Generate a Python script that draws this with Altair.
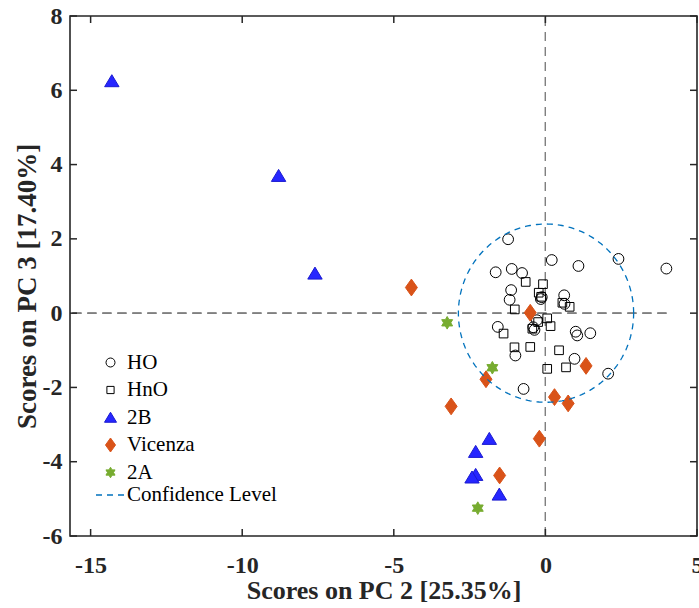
import altair as alt
import numpy as np
import pandas as pd

# ---------------- data ----------------
ho_x = [-1.23, 0.21, 1.09, 2.41, 3.99, -1.64, -1.11, -0.77, -1.13, -1.18, -0.15, -0.12,
        0.62, 0.63, -0.28, -1.57, -0.40, -0.36, 1.00, 1.05, 1.48, -0.99, 0.96, 2.07, -0.72]
ho_y = [1.99, 1.43, 1.27, 1.46, 1.20, 1.10, 1.19, 1.08, 0.62, 0.36, 0.38, 0.43,
        0.48, 0.25, -0.19, -0.37, -0.38, -0.45, -0.50, -0.60, -0.54, -1.14, -1.23, -1.63, -2.04]

hno_x = [-0.65, -0.08, -0.22, -0.14, 0.56, 0.80, -1.01, 0.06, 0.17, -0.24, -0.43,
         -1.38, -1.02, -0.50, 0.45, 0.06, 0.68]
hno_y = [0.84, 0.78, 0.55, 0.44, 0.28, 0.17, 0.10, -0.14, -0.35, -0.24, -0.42,
         -0.55, -0.92, -0.91, -1.00, -1.50, -1.46]

b2_x = [-14.3, -8.8, -7.6, -1.85, -2.3, -2.3, -2.42, -1.52]
b2_y = [6.25, 3.70, 1.07, -3.38, -3.73, -4.35, -4.42, -4.88]

vic_x = [-4.42, -0.50, -1.96, -3.11, 0.30, 0.75, -0.20, -1.51, 1.34]
vic_y = [0.69, 0.01, -1.78, -2.51, -2.26, -2.43, -3.38, -4.37, -1.42]

a2_x = [-3.24, -1.75, -2.23]
a2_y = [-0.26, -1.47, -5.25]

groups = ["HO", "HnO", "2B", "Vicenza", "2A"]

ci_center_x = 0.02
ci_center_y = 0.0
ci_radius_x = 2.89
ci_radius_y = 2.40

x_ticks = [-15, -10, -5, 0, 5]
y_ticks = [-6, -4, -2, 0, 2, 4, 6, 8]

# ---------------- tables ----------------
rows = []
for g, xs_, ys_ in zip(groups, [ho_x, hno_x, b2_x, vic_x, a2_x], [ho_y, hno_y, b2_y, vic_y, a2_y]):
    for a, b in zip(xs_, ys_):
        rows.append({"group": g, "pc2": a, "pc3": b})
df = pd.DataFrame(rows)

t = np.linspace(0, 2 * np.pi, 241)
ell = pd.DataFrame({
    "pc2": ci_center_x + ci_radius_x * np.cos(t),
    "pc3": ci_center_y + ci_radius_y * np.sin(t),
    "i": np.arange(len(t)),
    "name": "Confidence Level",
})
xt = pd.DataFrame({"v": x_ticks})
yt = pd.DataFrame({"v": y_ticks})

# ---------------- style ----------------
W, H = 627, 520
FONT = "Liberation Serif, Times New Roman, serif"
AX = "#262626"
xs = alt.Scale(domain=[-15.68, 5], nice=False, zero=False)
ys = alt.Scale(domain=[-6, 8], nice=False, zero=False)

circle_p = "M-0.9,0A0.9,0.9 0 1,0 0.9,0A0.9,0.9 0 1,0 -0.9,0Z"
square_p = "M-0.72,-0.72L0.72,-0.72L0.72,0.72L-0.72,0.72Z"
tri_p = "M0,-1.05L1.2,0.95L-1.2,0.95Z"
diam_p = "M0,-1.4L1,0L0,1.4L-1,0Z"
star_p = ("M0,-1.05L0.303,-0.525L0.909,-0.525L0.606,0L0.909,0.525L0.303,0.525"
          "L0,1.05L-0.303,0.525L-0.909,0.525L-0.606,0L-0.909,-0.525L-0.303,-0.525Z")

shapes = [circle_p, square_p, tri_p, diam_p, star_p]
fills = ["transparent", "transparent", "#2626FF", "#D95319", "#77AC30"]
strokes = ["#000000", "#000000", "#1A1AD0", "#D95319", "#77AC30"]

leg = alt.Legend(orient="none", legendX=30, legendY=336, title=None,
                 labelFont=FONT, labelFontSize=21, labelColor="#000000",
                 symbolSize=100, rowPadding=5.5, labelOffset=6, padding=0,
                 symbolStrokeWidth=1, labelLimit=300)

lab_expr = "'' + datum.value"

points = alt.Chart(df).mark_point(filled=True, size=144, strokeWidth=1, opacity=1).encode(
    x=alt.X("pc2:Q", scale=xs, title="Scores on PC 2 [25.35%]",
            axis=alt.Axis(values=x_ticks, grid=False, domain=False, ticks=False, tickSize=0,
                          labelExpr=lab_expr,
                          labelFont=FONT, labelFontSize=24, labelFontWeight="bold",
                          labelColor=AX, labelPadding=36, labelBaseline="alphabetic",
                          labelFlush=False, labelOverlap=False,
                          titleFont=FONT, titleFontSize=26, titleFontWeight="bold",
                          titleColor=AX, titleBaseline="alphabetic", titleY=62)),
    y=alt.Y("pc3:Q", scale=ys, title="Scores on PC 3 [17.40%]",
            axis=alt.Axis(values=y_ticks, grid=False, domain=False, ticks=False, tickSize=0,
                          labelExpr=lab_expr,
                          labelFont=FONT, labelFontSize=24, labelFontWeight="bold",
                          labelColor=AX, labelPadding=8, labelFlush=False, labelOverlap=False,
                          titleFont=FONT, titleFontSize=27, titleFontWeight="bold",
                          titleColor=AX, titleAngle=-90, titleBaseline="alphabetic",
                          titleAlign="center", titleX=-35, titleY=270)),
    shape=alt.Shape("group:N", scale=alt.Scale(domain=groups, range=shapes), legend=leg),
    fill=alt.Fill("group:N", scale=alt.Scale(domain=groups, range=fills), legend=leg),
    stroke=alt.Stroke("group:N", scale=alt.Scale(domain=groups, range=strokes), legend=leg),
    order=alt.Order("idx:Q"),
).transform_window(idx="row_number()")

zero_h = alt.Chart(xt).mark_rule(color="#808080", strokeWidth=1, strokeDash=[9, 6]).encode(
    x=alt.XDatum(-15.6, scale=xs), x2=alt.X2Datum(4.0), y=alt.YDatum(0, scale=ys))
zero_v = alt.Chart(xt).mark_rule(color="#808080", strokeWidth=1, strokeDash=[9, 6]).encode(
    x=alt.XDatum(0, scale=xs), y=alt.YDatum(-6, scale=ys), y2=alt.Y2Datum(8))

ellipse = alt.Chart(ell).mark_line(color="#0072BD", strokeWidth=1.3).encode(
    x=alt.X("pc2:Q", scale=xs),
    y=alt.Y("pc3:Q", scale=ys),
    order=alt.Order("i:Q"),
    strokeDash=alt.StrokeDash("name:N", scale=alt.Scale(domain=["Confidence Level"], range=[[6, 5]]),
                              legend=alt.Legend(orient="none", legendX=25, legendY=463, title=None,
                                                symbolType="stroke", symbolStrokeColor="#0072BD",
                                                symbolSize=900, symbolStrokeWidth=1.3,
                                                labelFont=FONT, labelFontSize=21, labelColor="#000000",
                                                labelOffset=0, padding=0, labelLimit=300)),
)

tick_b = alt.Chart(xt).mark_rule(color=AX, strokeWidth=1.5).encode(
    x=alt.X("v:Q", scale=xs), y=alt.value(H), y2=alt.value(H - 7))
tick_t = alt.Chart(xt).mark_rule(color=AX, strokeWidth=1.5).encode(
    x=alt.X("v:Q", scale=xs), y=alt.value(0), y2=alt.value(7))
tick_l = alt.Chart(yt).mark_rule(color=AX, strokeWidth=1.5).encode(
    y=alt.Y("v:Q", scale=ys), x=alt.value(0), x2=alt.value(7))
tick_r = alt.Chart(yt).mark_rule(color=AX, strokeWidth=1.5).encode(
    y=alt.Y("v:Q", scale=ys), x=alt.value(W), x2=alt.value(W - 7))

chart = alt.layer(zero_h, zero_v, points, ellipse, tick_b, tick_t, tick_l, tick_r).resolve_scale(
    strokeDash="independent"
).properties(
    width=W, height=H,
    autosize=alt.AutoSizeParams(type="none"),
    padding={"left": 70, "top": 16, "right": 2, "bottom": 72},
    background="white",
).configure(
    font=FONT,
    style={"guide-label": {"font": FONT}, "guide-title": {"font": FONT}},
).configure_view(
    stroke=AX, strokeWidth=1.6
).configure_axis(
    labelFont=FONT, titleFont=FONT
).configure_legend(
    labelFont=FONT
).configure_text(font=FONT)

chart.save("out.html", embed_options={"renderer": "svg", "actions": False})
